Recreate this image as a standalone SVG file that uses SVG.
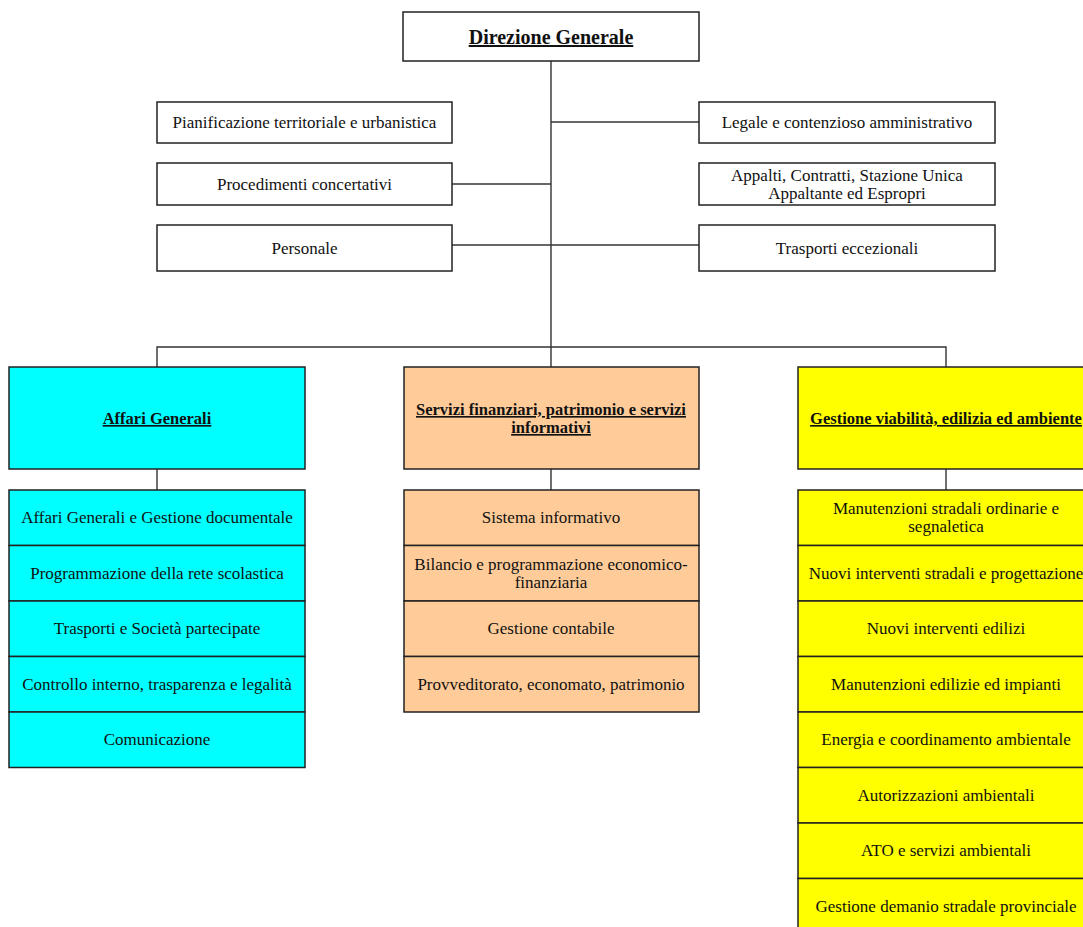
<svg xmlns="http://www.w3.org/2000/svg" width="1083" height="927" viewBox="0 0 1083 927">
<style>
  .bx{stroke:#222;stroke-width:1.5}
  .w{fill:#fff}
  .c{fill:#00ffff}
  .p{fill:#ffcc99}
  .y{fill:#ffff00}
  .t{font-family:"Liberation Serif","Times New Roman",serif;font-size:17px;fill:#111;text-anchor:middle}
  .h{font-family:"Liberation Serif","Times New Roman",serif;font-weight:bold;fill:#111;text-anchor:middle;text-decoration:underline}
  .ln{stroke:#333;stroke-width:1.4;fill:none}
</style>
<rect width="1083" height="927" fill="#fff"/>
<g id="connectors" class="ln">
  <path d="M551 61V347"/>
  <path d="M551 122H699"/>
  <path d="M452 184H551"/>
  <path d="M452 245H699"/>
  <path d="M157 367V347H946V367"/>
  <path d="M551 347V367"/>
  <path d="M157 469V490"/>
  <path d="M551 469V490"/>
  <path d="M946 469V490"/>
</g>
<g id="direzione">
  <rect class="bx w" x="403" y="12" width="296" height="49"/>
  <text class="h" x="551" y="44" font-size="20">Direzione Generale</text>
</g>
<g id="pianificazione">
  <rect class="bx w" x="157" y="102" width="295" height="41"/>
  <text class="t" x="304.5" y="128">Pianificazione territoriale e urbanistica</text>
</g>
<g id="procedimenti">
  <rect class="bx w" x="157" y="163" width="295" height="42"/>
  <text class="t" x="304.5" y="189.5">Procedimenti concertativi</text>
</g>
<g id="personale">
  <rect class="bx w" x="157" y="225" width="295" height="46"/>
  <text class="t" x="304.5" y="254">Personale</text>
</g>
<g id="legale">
  <rect class="bx w" x="699" y="102" width="296" height="41"/>
  <text class="t" x="847" y="128">Legale e contenzioso amministrativo</text>
</g>
<g id="appalti">
  <rect class="bx w" x="699" y="163" width="296" height="42"/>
  <text class="t" x="847" y="180.5">Appalti, Contratti, Stazione Unica</text>
  <text class="t" x="847" y="198.5">Appaltante ed Espropri</text>
</g>
<g id="trasporti-eccezionali">
  <rect class="bx w" x="699" y="225" width="296" height="46"/>
  <text class="t" x="847" y="254">Trasporti eccezionali</text>
</g>
<g id="affari-generali">
  <rect class="bx c" x="9" y="367" width="296" height="102"/>
  <text class="h" x="157" y="424" font-size="16.5">Affari Generali</text>
</g>
<g id="affari-list">
  <rect class="bx c" x="9" y="490" width="296" height="55.5"/>
  <rect class="bx c" x="9" y="545.5" width="296" height="55.5"/>
  <rect class="bx c" x="9" y="601" width="296" height="55.5"/>
  <rect class="bx c" x="9" y="656.5" width="296" height="55.5"/>
  <rect class="bx c" x="9" y="712" width="296" height="55.5"/>
  <text class="t" x="157" y="523">Affari Generali e Gestione documentale</text>
  <text class="t" x="157" y="579">Programmazione della rete scolastica</text>
  <text class="t" x="157" y="634">Trasporti e Società partecipate</text>
  <text class="t" x="157" y="690">Controllo interno, trasparenza e legalità</text>
  <text class="t" x="157" y="745">Comunicazione</text>
</g>
<g id="servizi-finanziari">
  <rect class="bx p" x="404" y="367" width="295" height="102"/>
  <text class="h" x="551" y="415" font-size="16.5">Servizi finanziari, patrimonio e servizi</text>
  <text class="h" x="551" y="433" font-size="16.5">informativi</text>
</g>
<g id="servizi-list">
  <rect class="bx p" x="404" y="490" width="295" height="55.5"/>
  <rect class="bx p" x="404" y="545.5" width="295" height="55.5"/>
  <rect class="bx p" x="404" y="601" width="295" height="55.5"/>
  <rect class="bx p" x="404" y="656.5" width="295" height="55.5"/>
  <text class="t" x="551" y="523">Sistema informativo</text>
  <text class="t" x="551" y="570">Bilancio e programmazione economico-</text>
  <text class="t" x="551" y="588">finanziaria</text>
  <text class="t" x="551" y="634">Gestione contabile</text>
  <text class="t" x="551" y="690">Provveditorato, economato, patrimonio</text>
</g>
<g id="gestione-viabilita">
  <rect class="bx y" x="798" y="367" width="296" height="102"/>
  <text class="h" x="946" y="424" font-size="16.5">Gestione viabilità, edilizia ed ambiente</text>
</g>
<g id="gestione-list">
  <rect class="bx y" x="798" y="490" width="296" height="55.5"/>
  <rect class="bx y" x="798" y="545.5" width="296" height="55.5"/>
  <rect class="bx y" x="798" y="601" width="296" height="55.5"/>
  <rect class="bx y" x="798" y="656.5" width="296" height="55.5"/>
  <rect class="bx y" x="798" y="712" width="296" height="55.5"/>
  <rect class="bx y" x="798" y="767.5" width="296" height="55.5"/>
  <rect class="bx y" x="798" y="823" width="296" height="55.5"/>
  <rect class="bx y" x="798" y="878.5" width="296" height="55.5"/>
  <text class="t" x="946" y="514">Manutenzioni stradali ordinarie e</text>
  <text class="t" x="946" y="532">segnaletica</text>
  <text class="t" x="946" y="579">Nuovi interventi stradali e progettazione</text>
  <text class="t" x="946" y="634">Nuovi interventi edilizi</text>
  <text class="t" x="946" y="690">Manutenzioni edilizie ed impianti</text>
  <text class="t" x="946" y="745">Energia e coordinamento ambientale</text>
  <text class="t" x="946" y="801">Autorizzazioni ambientali</text>
  <text class="t" x="946" y="856">ATO e servizi ambientali</text>
  <text class="t" x="946" y="912">Gestione demanio stradale provinciale</text>
</g>
</svg>
